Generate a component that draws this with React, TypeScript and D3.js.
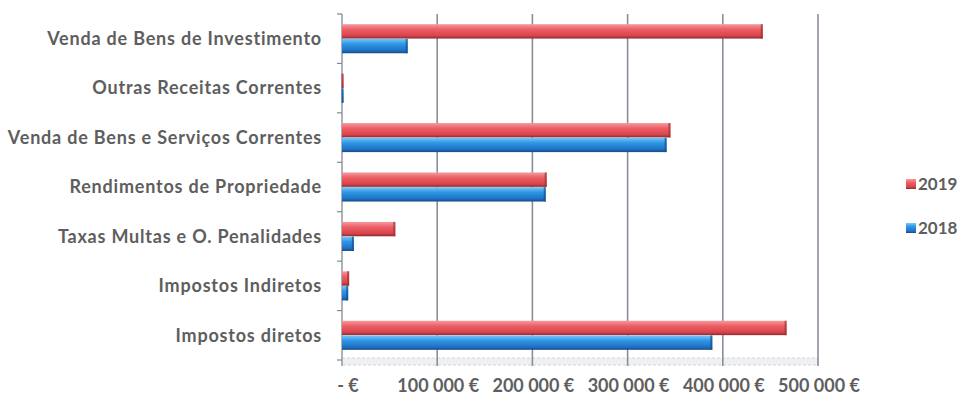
import React from "react";
import * as d3 from "d3";

const categories = [
  "Venda de Bens de Investimento",
  "Outras Receitas Correntes",
  "Venda de Bens e Serviços Correntes",
  "Rendimentos de Propriedade",
  "Taxas Multas e O. Penalidades",
  "Impostos Indiretos",
  "Impostos diretos",
];
const series = ["2019", "2018"];
const values2019 = [442000, 1500, 345000, 215000, 56000, 7500, 467000];
const values2018 = [69000, 1000, 341000, 214000, 12500, 6500, 389000];
const xTicks = [0, 100000, 200000, 300000, 400000, 500000];
const xTickLabels = ["- €", "100 000 €", "200 000 €", "300 000 €", "400 000 €", "500 000 €"];

const W = 969;
const H = 405;
const left = 342;
const right = 818;
const top = 14;
const bottom = 360;
const font = "Lato, 'Open Sans', sans-serif";
const textColor = "#5e5e5e";

export default function App() {
  const x = d3.scaleLinear().domain([0, 500000]).range([left, right]);
  const y = d3.scaleBand().domain(categories).range([top, bottom]).paddingInner(0.4).paddingOuter(0.2);
  const inner = d3.scaleBand().domain(series).range([0, y.bandwidth()]).padding(0.02);
  const data = [values2019, values2018];
  const colors = ["red", "blue"];
  const step = y.step();
  return (
    <svg width={W} height={H} style={{ position: "absolute", left: 0, top: 0, background: "#fff" }}>
      <defs>
        <linearGradient id="red" x1="0" y1="0" x2="0" y2="1">
          <stop offset="0" stopColor="#f59a9e" />
          <stop offset="0.35" stopColor="#ec6066" />
          <stop offset="0.8" stopColor="#d9444c" />
          <stop offset="1" stopColor="#8e2a30" />
        </linearGradient>
        <linearGradient id="blue" x1="0" y1="0" x2="0" y2="1">
          <stop offset="0" stopColor="#7cc6f5" />
          <stop offset="0.35" stopColor="#2f97e6" />
          <stop offset="0.8" stopColor="#1f72c4" />
          <stop offset="1" stopColor="#154b86" />
        </linearGradient>
      </defs>
      {/* floor */}
      <rect x={left} y={bottom - 2} width={right - left} height={7} fill="#eef0f3" stroke="#c9ccd2" strokeDasharray="3,2" strokeWidth={0.8} />
      {/* gridlines */}
      {xTicks.map((t, i) => (
        <line key={"g" + i} x1={x(t)} x2={x(t)} y1={top} y2={bottom + 6} stroke={i === 0 ? "#9aa0aa" : "#8a8e98"} strokeWidth={1.6} />
      ))}
      {/* y ticks */}
      {d3.range(categories.length + 1).map((i) => (
        <line key={"yt" + i} x1={left - 5} x2={left} y1={top + i * step} y2={top + i * step} stroke="#888" strokeWidth={1.2} />
      ))}
      {/* bars */}
      {categories.map((c, ci) =>
        series.map((s, si) => {
          const v = data[si][ci];
          const by = (y(c) as number) + (inner(s) as number);
          const bh = inner.bandwidth();
          const w = Math.max(x(v) - left, 1.5);
          return (
            <g key={c + s}>
              <rect x={left} y={by} width={w} height={bh} fill={`url(#${colors[si]})`} />
              <rect x={left + w - 2} y={by} width={2} height={bh} fill={si === 0 ? "#9b3036" : "#164e8c"} opacity={0.7} />
            </g>
          );
        })
      )}
      {/* category labels */}
      {categories.map((c) => (
        <text key={"l" + c} x={322} y={(y(c) as number) + y.bandwidth() / 2} dy="0.35em" textAnchor="end" fontFamily={font} fontSize={18} fontWeight="bold" fill={textColor} letterSpacing={0.8}>
          {c}
        </text>
      ))}
      {/* x tick labels */}
      {xTicks.map((t, i) => (
        <text key={"xl" + i} x={i === 0 ? x(t) + 6 : x(t) + 1} y={386} dy="0.35em" textAnchor="middle" fontFamily={font} fontSize={18} fontWeight="bold" fill={textColor} letterSpacing={0}>
          {xTickLabels[i]}
        </text>
      ))}
      {/* legend */}
      {series.map((s, si) => (
        <g key={"lg" + s} transform={`translate(906, ${184 + si * 44})`}>
          <rect x={0} y={-5} width={10} height={10} fill={`url(#${colors[si]})`} />
          <text x={12} y={0} dy="0.35em" fontFamily={font} fontSize={17} fontWeight="bold" fill={textColor}>
            {s}
          </text>
        </g>
      ))}
    </svg>
  );
}
